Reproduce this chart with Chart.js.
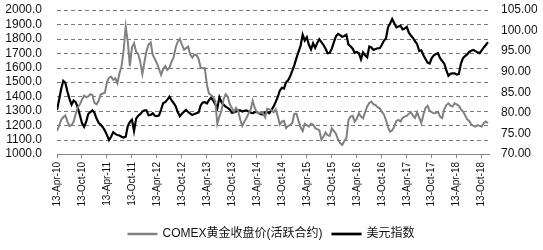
<!DOCTYPE html>
<html>
<head>
<meta charset="utf-8">
<script src="https://cdn.jsdelivr.net/npm/chart.js@4.4.0/dist/chart.umd.min.js"></script>
<style>
  html, body { margin: 0; padding: 0; background: #fff; }
  #wrap { width: 543px; height: 250px; }
</style>
</head>
<body>
<div id="wrap"><canvas id="goldChart" width="543" height="250"></canvas></div>
<script>
// Tick labels of the date axis, one every 12 half-month points.
var tickLabels = ['13-Apr-10', '13-Oct-10', '13-Apr-11', '13-Oct-11', '13-Apr-12', '13-Oct-12',
    '13-Apr-13', '13-Oct-13', '13-Apr-14', '13-Oct-14', '13-Apr-15', '13-Oct-15',
    '13-Apr-16', '13-Oct-16', '13-Apr-17', '13-Oct-17', '13-Apr-18', '13-Oct-18'];

var seriesNames = ['COMEX黄金收盘价(活跃合约)', '美元指数'];

// COMEX gold close (about two points a month).
var goldClose = [
    1160, 1195, 1236, 1255, 1268, 1225, 1195, 1200, 1225, 1280, 1325, 1345,
    1378, 1405, 1395, 1400, 1415, 1410, 1355, 1345, 1370, 1415, 1420, 1425,
    1500, 1530, 1537, 1515, 1525, 1490, 1560, 1610, 1720, 1884, 1780, 1610,
    1740, 1770, 1710, 1695, 1640, 1555, 1640, 1715, 1760, 1775, 1688, 1660,
    1630, 1590, 1550, 1590, 1610, 1585, 1600, 1640, 1670, 1740, 1780, 1800,
    1760, 1725, 1735, 1745, 1690, 1670, 1690, 1688, 1660, 1600, 1595, 1597,
    1480, 1420, 1410, 1395, 1370, 1210, 1260, 1300, 1380, 1415, 1400, 1345,
    1320, 1294, 1320, 1300, 1240, 1195, 1225, 1250, 1280, 1306, 1370, 1320,
    1290, 1283, 1290, 1280, 1255, 1315, 1310, 1305, 1290, 1310, 1265, 1205,
    1225, 1230, 1180, 1195, 1200, 1215, 1280, 1280, 1230, 1185, 1160, 1210,
    1200, 1190, 1210, 1205, 1180, 1172, 1165, 1100, 1120, 1150, 1130, 1125,
    1178, 1160, 1140, 1100, 1075, 1063, 1090, 1110, 1236, 1260, 1265, 1225,
    1245, 1283, 1260, 1248, 1290, 1330, 1355, 1364, 1345, 1340, 1325, 1317,
    1294, 1275, 1236, 1185, 1155, 1165, 1190, 1230, 1236, 1225, 1250, 1260,
    1265, 1280, 1290, 1265, 1250, 1290, 1250, 1215, 1275, 1320, 1335, 1300,
    1290, 1283, 1285, 1294, 1260, 1250, 1310, 1340, 1352, 1335, 1329, 1352,
    1345, 1335, 1310, 1295, 1271, 1240, 1230, 1205, 1195, 1190, 1201, 1195,
    1190, 1215, 1225, 1213
];

// US dollar index, same dates.
var usdIndex = [
    80.7, 83.2, 85.8, 87.8, 87.3, 85.2, 83.4, 82.0, 83.0, 82.6, 81.2, 79.4,
    77.5, 76.6, 77.8, 79.7, 80.2, 80.6, 80.0, 78.6, 77.6, 77.1, 76.5, 75.7,
    74.6, 73.4, 74.2, 75.3, 74.9, 74.6, 74.5, 74.2, 74.0, 74.2, 76.8, 77.8,
    78.3, 75.6, 78.6, 79.3, 79.7, 80.3, 80.6, 80.6, 79.4, 79.5, 79.9, 79.3,
    79.2, 79.4, 80.8, 82.4, 82.6, 83.2, 83.9, 83.1, 82.4, 81.6, 80.2, 79.2,
    79.8, 80.3, 80.7, 80.2, 79.8, 79.5, 79.7, 79.9, 80.1, 81.8, 82.5, 82.6,
    82.3, 83.1, 83.7, 83.0, 82.1, 81.1, 83.8, 82.6, 82.0, 81.5, 81.2, 80.8,
    80.0, 80.1, 80.3, 80.6, 80.6, 80.3, 80.5, 80.6, 80.3, 80.1, 79.9, 80.2,
    80.2, 79.9, 79.7, 79.6, 80.2, 80.2, 79.9, 80.7, 81.5, 82.6, 83.8, 85.4,
    86.1, 85.9, 87.4, 87.9, 88.9, 90.2, 91.6, 93.3, 94.8, 96.3, 99.0, 97.6,
    98.4, 96.5, 95.4, 96.9, 95.8, 97.0, 97.9, 97.2, 96.5, 95.6, 94.5, 94.6,
    95.6, 97.2, 98.6, 99.2, 98.9, 98.5, 98.7, 99.0, 96.6, 96.2, 95.6, 94.6,
    94.8, 94.5, 93.0, 94.7, 94.0, 93.5, 96.1, 95.9, 95.3, 95.5, 95.7, 95.7,
    96.5, 97.5, 98.1, 100.8, 101.7, 102.8, 101.8, 100.8, 101.0, 101.2, 100.3, 100.5,
    100.9, 99.5, 98.8, 98.2, 97.4, 96.7, 95.0, 95.2, 94.0, 93.1, 92.2, 92.0,
    93.3, 94.0, 94.3, 94.5, 93.3, 92.6, 92.0, 90.4, 89.0, 89.5, 89.6, 89.6,
    89.3, 89.4, 91.9, 93.3, 93.8, 94.2, 94.8, 95.1, 95.3, 95.0, 94.7, 94.5,
    95.2, 95.9, 96.5, 97.2
];

// Linear x axis: point i sits at i, a labelled tick every 12 points.
function toPoints(values) {
    return values.map(function (v, i) { return { x: i, y: v }; });
}

// Fix axis widths and drop the tick padding that pushes the plot top down.
function fitAxis(width) {
    return function (scale) {
        scale.width = width;
        scale.paddingTop = 0;
        scale.paddingBottom = 0;
    };
}

// Dashed horizontal lines at the left axis ticks.
var dashedGrid = {
    id: 'dashedGrid',
    beforeDatasetsDraw: function (c) {
        var s = c.scales.y, a = c.chartArea, ctx = c.ctx;
        ctx.save();
        ctx.strokeStyle = '#7a7a7a';
        ctx.lineWidth = 1;
        ctx.setLineDash([4, 3]);
        s.ticks.forEach(function (t) {
            if (t.value === s.min) return;
            var y = Math.round(s.getPixelForValue(t.value)) + 0.5;
            ctx.beginPath();
            ctx.moveTo(a.left, y);
            ctx.lineTo(a.right, y);
            ctx.stroke();
        });
        ctx.restore();
    }
};

var axisFont = { family: "'Liberation Sans', Arial, sans-serif", size: 12 };

var chart = new Chart(document.getElementById('goldChart').getContext('2d'), {
    type: 'line',
    data: {
        datasets: [{
            label: seriesNames[0],
            data: toPoints(goldClose),
            yAxisID: 'y',
            borderColor: '#808080',
            backgroundColor: '#808080',
            borderWidth: 2,
            pointRadius: 0,
            tension: 0
        }, {
            label: seriesNames[1],
            data: toPoints(usdIndex),
            yAxisID: 'y1',
            borderColor: '#000000',
            backgroundColor: '#000000',
            borderWidth: 2.2,
            pointRadius: 0,
            tension: 0
        }]
    },
    plugins: [dashedGrid],
    options: {
        responsive: false,
        animation: false,
        layout: { padding: { left: 6, right: 6, top: 10, bottom: 0 } },
        plugins: {
            tooltip: { enabled: false },
            legend: {
                position: 'bottom',
                labels: {
                    boxWidth: 28,
                    boxHeight: 0.5,
                    padding: 10,
                    color: '#111',
                    font: { family: "'Liberation Sans', 'Noto Sans CJK SC', sans-serif", size: 12 }
                }
            }
        },
        scales: {
            x: {
                type: 'linear',
                min: 0,
                max: 207.5,
                afterFit: function (scale) {
                    scale.height = 64;
                    scale.paddingLeft = 0;
                    scale.paddingRight = 0;
                },
                ticks: {
                    stepSize: 12,
                    includeBounds: false,
                    autoSkip: false,
                    maxRotation: 90,
                    minRotation: 90,
                    padding: 4,
                    color: '#111',
                    font: { family: "'Liberation Sans', Arial, sans-serif", size: 10 },
                    callback: function (v) {
                        var k = Math.round(v / 12);
                        return (v % 12 === 0 && tickLabels[k]) ? tickLabels[k] : '';
                    }
                },
                grid: { drawOnChartArea: false, tickLength: 4, color: '#868686' },
                border: { color: '#868686', width: 1 }
            },
            y: {
                position: 'left',
                min: 1000,
                max: 2000,
                afterFit: fitAxis(51),
                ticks: {
                    stepSize: 100,
                    autoSkip: false,
                    padding: 15,
                    color: '#111',
                    font: axisFont,
                    callback: function (v) { return v.toFixed(1); }
                },
                grid: { display: false, drawTicks: false },
                border: { display: false }
            },
            y1: {
                position: 'right',
                min: 70,
                max: 105,
                afterFit: fitAxis(48),
                ticks: {
                    stepSize: 5,
                    autoSkip: false,
                    padding: 12,
                    color: '#111',
                    font: axisFont,
                    callback: function (v) { return v.toFixed(2); }
                },
                grid: { display: false, drawTicks: false },
                border: { display: false }
            }
        }
    }
});
</script>
</body>
</html>
